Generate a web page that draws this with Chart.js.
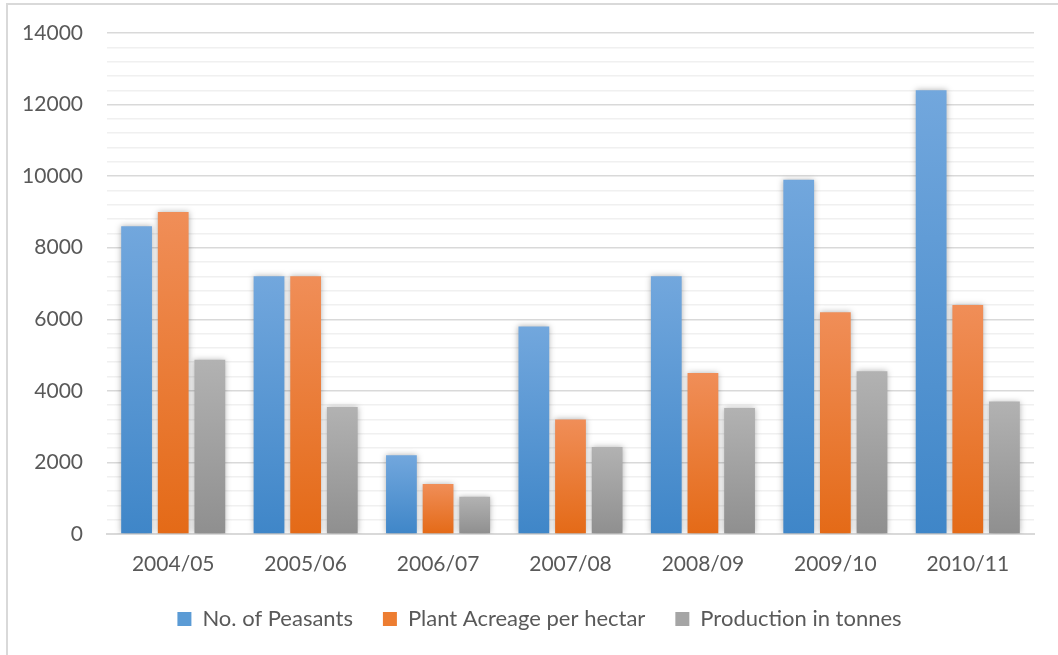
<!DOCTYPE html>
<html>
<head>
<meta charset="utf-8">
<script src="https://cdn.jsdelivr.net/npm/chart.js@4.4.1/dist/chart.umd.min.js"></script>
<style>
  html, body { margin: 0; padding: 0; background: #fff; }
  #frame { position: absolute; left: 6px; top: 3px; width: 1060px; height: 670px; border: 2px solid #d9d9d9; }
  #wrap { position: absolute; left: 0; top: 0; width: 1058px; height: 655px; }
</style>
</head>
<body>
<div id="frame"></div>
<div id="wrap"><canvas id="chart"></canvas></div>
<script>
const seasons = ['2004/05', '2005/06', '2006/07', '2007/08', '2008/09', '2009/10', '2010/11'];
const peasants = [8600, 7200, 2200, 5800, 7200, 9900, 12400];
const acreage = [9000, 7200, 1400, 3200, 4500, 6200, 6400];
const production = [4870, 3550, 1040, 2430, 3520, 4550, 3700];
const yMax = 14000;
const yStep = 400;

// vertical gradient per bar, lighter at the top
function barFill(top, bottom) {
  return function (c) {
    const chart = c.chart;
    if (!chart.chartArea || c.type !== 'data') return bottom;
    const y = chart.scales.y;
    const y0 = y.getPixelForValue(0);
    const y1 = y.getPixelForValue(c.raw);
    if (!isFinite(y1) || y0 === y1) return bottom;
    const g = chart.ctx.createLinearGradient(0, y1, 0, y0);
    g.addColorStop(0, top);
    g.addColorStop(1, bottom);
    return g;
  };
}

const barShadow = {
  id: 'barShadow',
  beforeDatasetsDraw(chart) {
    const ctx = chart.ctx;
    ctx.save();
    ctx.shadowColor = 'rgba(0,0,0,0.3)';
    ctx.shadowBlur = 6;
    ctx.shadowOffsetX = 0;
    ctx.shadowOffsetY = 0;
  },
  afterDatasetsDraw(chart) {
    chart.ctx.restore();
  }
};

const legendFill = {
  'No. of Peasants': '#5b9bd5',
  'Plant Acreage per hectar': '#ed7d31',
  'Production in tonnes': '#a5a5a5'
};

const ctx = document.getElementById('chart');

new Chart(ctx, {
  type: 'bar',
  data: {
    labels: seasons,
    datasets: [
      { label: 'No. of Peasants', data: peasants, backgroundColor: barFill('#72a7dd', '#3f86c8') },
      { label: 'Plant Acreage per hectar', data: acreage, backgroundColor: barFill('#f08e58', '#e46a17') },
      { label: 'Production in tonnes', data: production, backgroundColor: barFill('#b2b2b2', '#8f8f8f') }
    ]
  },
  options: {
    responsive: true,
    maintainAspectRatio: false,
    animation: false,
    datasets: {
      bar: { categoryPercentage: 0.83, barPercentage: 0.84, borderWidth: 0 }
    },
    layout: { padding: { top: 33, right: 0, left: 21, bottom: 15 } },
    plugins: {
      tooltip: { enabled: false },
      legend: {
        position: 'bottom',
        labels: {
          color: '#595959',
          font: { family: 'Lato', size: 22 },
          boxWidth: 14,
          boxHeight: 14,
          padding: 30,
          generateLabels(chart) {
            return chart.data.datasets.map((d, i) => ({
              text: d.label,
              fillStyle: legendFill[d.label],
              strokeStyle: legendFill[d.label],
              lineWidth: 0,
              fontColor: '#595959',
              datasetIndex: i
            }));
          }
        }
      }
    },
    scales: {
      x: {
        afterFit(scale) { scale.height = 44; },
        grid: { display: false, drawTicks: false },
        border: { display: true, color: '#d9d9d9', width: 2 },
        ticks: { color: '#595959', font: { family: 'Lato', size: 21 }, padding: 18 }
      },
      y: {
        min: 0,
        max: yMax,
        afterFit(scale) {
          scale.width = 86;
          scale.paddingTop = 0;
          scale.paddingBottom = 0;
        },
        border: { display: false },
        grid: {
          drawTicks: false,
          color: c => (c.tick && c.tick.value % 2000 === 0) ? '#d9d9d9' : '#f0f0f0',
          lineWidth: 1.5
        },
        ticks: {
          stepSize: yStep,
          autoSkip: false,
          color: '#595959',
          font: { family: 'Lato', size: 21 },
          padding: 24,
          callback: v => (v % 2000 === 0 ? v : '')
        }
      },
      // empty right-hand margin
      yRight: {
        position: 'right',
        afterFit(scale) { scale.width = 24; },
        grid: { display: false, drawTicks: false },
        border: { display: false },
        ticks: { display: false }
      }
    }
  },
  plugins: [barShadow]
});
</script>
</body>
</html>
